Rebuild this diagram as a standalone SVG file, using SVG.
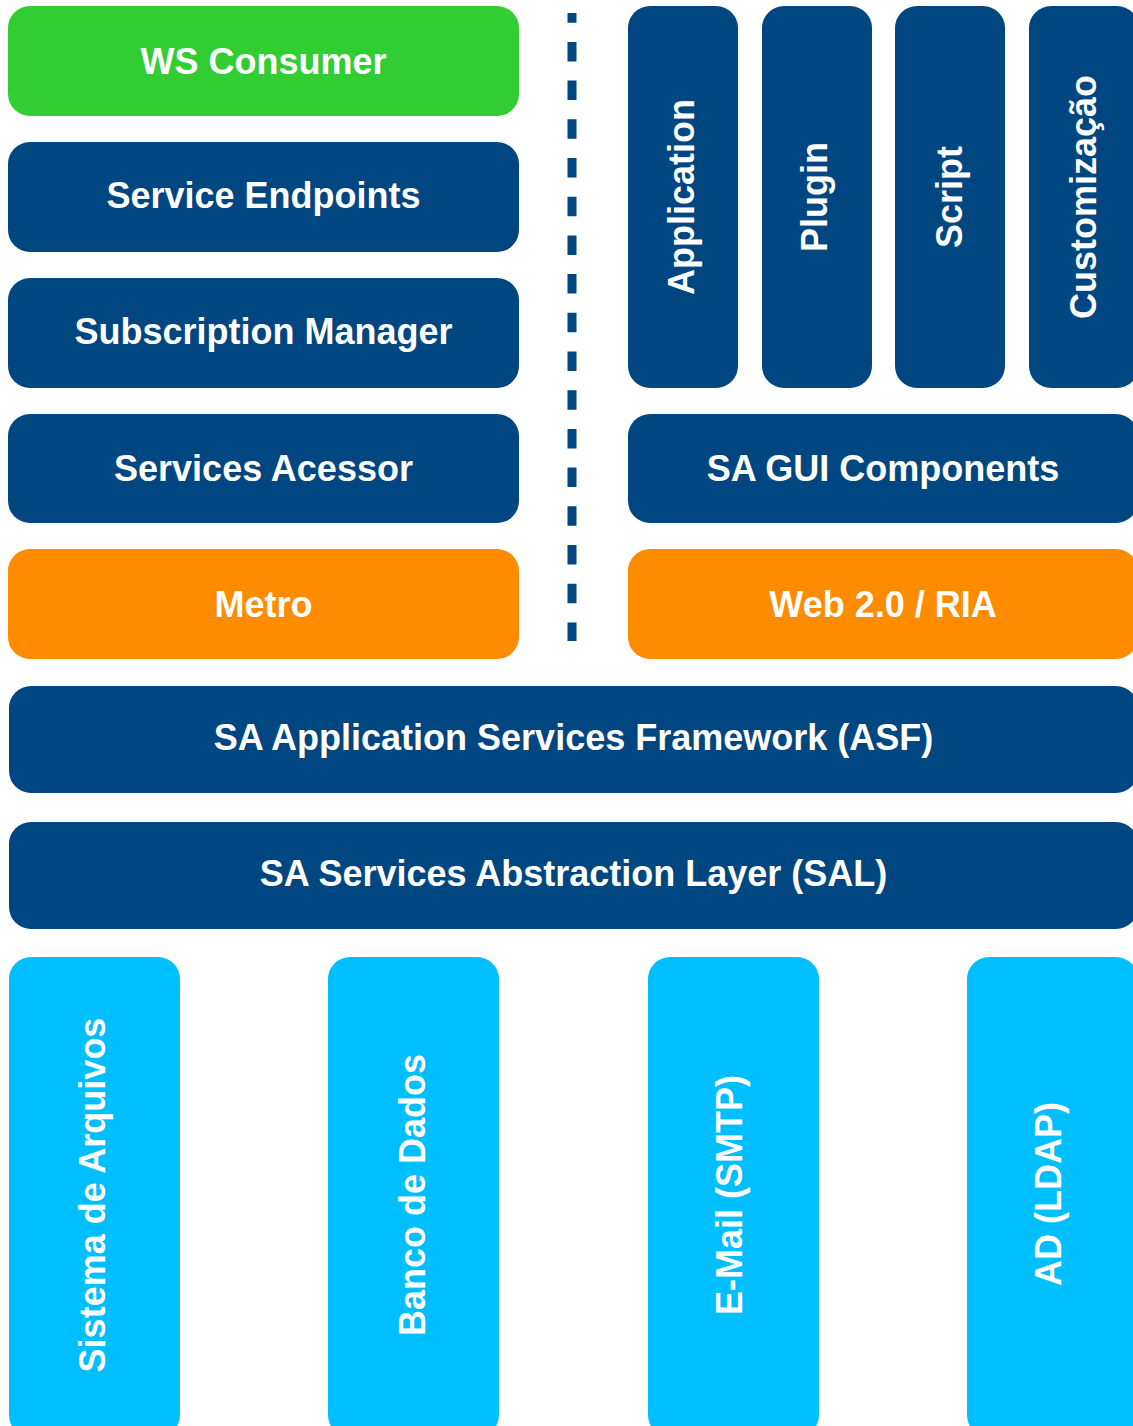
<svg xmlns="http://www.w3.org/2000/svg" width="1133" height="1426" viewBox="0 0 1133 1426">
<style>
.box{stroke:none}
.dark{fill:#004680}
.green{fill:#32CD32}
.orange{fill:#FF8C00}
.light{fill:#00BFFF}
text{font-family:"Liberation Sans",Arial,Helvetica,sans-serif;font-weight:bold;font-size:36px;fill:#fff;text-anchor:middle}
</style>
<rect width="1133" height="1426" fill="#fff"/>
<g id="connectors">
<line x1="572" y1="13" x2="572" y2="641" stroke="#004680" stroke-width="9" stroke-dasharray="19.5 19.2" stroke-dashoffset="9.8"/>
</g>
<g id="ws-consumer"><rect class="box green" x="8" y="6" width="511" height="110" rx="22"/><text x="263.5" y="74">WS Consumer</text></g>
<g id="service-endpoints"><rect class="box dark" x="8" y="142" width="511" height="110" rx="22"/><text x="263.5" y="208">Service Endpoints</text></g>
<g id="subscription-manager"><rect class="box dark" x="8" y="278" width="511" height="110" rx="22"/><text x="263.5" y="344">Subscription Manager</text></g>
<g id="services-acessor"><rect class="box dark" x="8" y="414" width="511" height="109" rx="22"/><text x="263.5" y="481">Services Acessor</text></g>
<g id="metro"><rect class="box orange" x="8" y="549" width="511" height="110" rx="22"/><text x="263.5" y="617">Metro</text></g>
<g id="application"><rect class="box dark" x="628" y="6" width="110" height="382" rx="22"/><text transform="translate(694,197) rotate(-90)">Application</text></g>
<g id="plugin"><rect class="box dark" x="762" y="6" width="110" height="382" rx="22"/><text transform="translate(827,197) rotate(-90)">Plugin</text></g>
<g id="script"><rect class="box dark" x="895" y="6" width="110" height="382" rx="22"/><text transform="translate(962,197) rotate(-90)">Script</text></g>
<g id="customizacao"><rect class="box dark" x="1029" y="6" width="110" height="382" rx="22"/><text transform="translate(1096,197) rotate(-90)">Customização</text></g>
<g id="sa-gui-components"><rect class="box dark" x="628" y="414" width="510" height="109" rx="22"/><text x="883" y="481">SA GUI Components</text></g>
<g id="web20-ria"><rect class="box orange" x="628" y="549" width="510" height="110" rx="22"/><text x="883" y="617">Web 2.0 / RIA</text></g>
<g id="asf"><rect class="box dark" x="9" y="686" width="1129" height="107" rx="22"/><text x="573.5" y="750">SA Application Services Framework (ASF)</text></g>
<g id="sal"><rect class="box dark" x="9" y="822" width="1129" height="107" rx="22"/><text x="573.5" y="886">SA Services Abstraction Layer (SAL)</text></g>
<g id="sistema-de-arquivos"><rect class="box light" x="9" y="957" width="171" height="480" rx="22"/><text transform="translate(105,1195) rotate(-90)">Sistema de Arquivos</text></g>
<g id="banco-de-dados"><rect class="box light" x="328" y="957" width="171" height="480" rx="22"/><text transform="translate(425,1195) rotate(-90)">Banco de Dados</text></g>
<g id="email-smtp"><rect class="box light" x="648" y="957" width="171" height="480" rx="22"/><text transform="translate(742,1195) rotate(-90)">E-Mail (SMTP)</text></g>
<g id="ad-ldap"><rect class="box light" x="967" y="957" width="171" height="480" rx="22"/><text transform="translate(1061,1194) rotate(-90)">AD (LDAP)</text></g>
</svg>
